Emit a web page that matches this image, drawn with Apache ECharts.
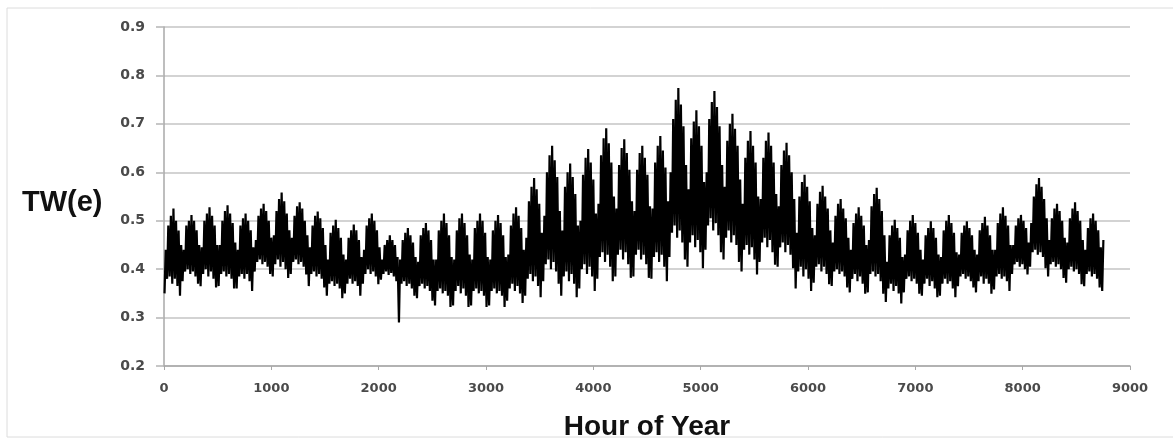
<!DOCTYPE html>
<html>
<head>
<meta charset="utf-8">
<script src="https://cdn.jsdelivr.net/npm/echarts@6/dist/echarts.min.js"></script>
<style>
html,body{margin:0;padding:0;background:#fff;}
#chart{width:1173px;height:446px;}
</style>
</head>
<body>
<div id="chart"></div>
<script>
// Daily maximum TW(e) value, one entry per day of the year (365 days)
const dayHigh = [
0.44,0.49,0.51,0.525,0.50,0.48,0.45,
0.44,0.49,0.50,0.512,0.50,0.48,0.45,
0.445,0.50,0.515,0.528,0.51,0.49,0.45,
0.45,0.50,0.52,0.532,0.515,0.495,0.455,
0.44,0.49,0.505,0.515,0.50,0.48,0.445,
0.46,0.51,0.525,0.535,0.52,0.50,0.465,
0.47,0.52,0.545,0.558,0.54,0.515,0.48,
0.465,0.51,0.53,0.538,0.525,0.50,0.47,
0.445,0.49,0.51,0.519,0.505,0.485,0.45,
0.42,0.475,0.49,0.502,0.485,0.465,0.43,
0.42,0.465,0.48,0.492,0.48,0.46,0.425,
0.44,0.49,0.505,0.515,0.50,0.48,0.445,
0.42,0.45,0.46,0.47,0.46,0.45,0.425,
0.42,0.46,0.475,0.485,0.47,0.455,0.425,
0.415,0.47,0.485,0.495,0.48,0.46,0.42,
0.42,0.48,0.50,0.515,0.495,0.47,0.425,
0.42,0.48,0.505,0.515,0.495,0.47,0.43,
0.42,0.485,0.50,0.515,0.50,0.475,0.425,
0.42,0.48,0.50,0.512,0.495,0.47,0.425,
0.43,0.49,0.515,0.528,0.51,0.485,0.44,
0.465,0.54,0.57,0.588,0.565,0.535,0.475,
0.51,0.60,0.635,0.655,0.625,0.59,0.52,
0.48,0.57,0.60,0.618,0.59,0.555,0.49,
0.50,0.595,0.63,0.648,0.62,0.585,0.515,
0.535,0.635,0.67,0.691,0.66,0.62,0.55,
0.525,0.615,0.65,0.668,0.64,0.605,0.54,
0.52,0.605,0.64,0.655,0.63,0.595,0.53,
0.525,0.62,0.655,0.675,0.645,0.61,0.54,
0.60,0.71,0.75,0.774,0.74,0.695,0.615,
0.565,0.67,0.705,0.728,0.695,0.655,0.58,
0.60,0.71,0.745,0.768,0.735,0.695,0.615,
0.57,0.665,0.70,0.721,0.69,0.655,0.585,
0.535,0.63,0.665,0.685,0.655,0.62,0.55,
0.545,0.63,0.665,0.682,0.655,0.62,0.555,
0.53,0.615,0.645,0.661,0.635,0.60,0.545,
0.475,0.55,0.58,0.595,0.57,0.54,0.485,
0.47,0.535,0.56,0.572,0.55,0.525,0.48,
0.455,0.51,0.535,0.545,0.525,0.505,0.465,
0.44,0.495,0.515,0.528,0.51,0.49,0.45,
0.46,0.53,0.555,0.568,0.545,0.52,0.47,
0.415,0.47,0.49,0.502,0.485,0.465,0.425,
0.43,0.48,0.50,0.512,0.495,0.475,0.44,
0.42,0.47,0.485,0.499,0.485,0.465,0.43,
0.425,0.48,0.50,0.512,0.495,0.475,0.435,
0.43,0.475,0.49,0.499,0.485,0.47,0.44,
0.43,0.48,0.495,0.508,0.49,0.47,0.44,
0.44,0.495,0.515,0.528,0.51,0.49,0.45,
0.45,0.49,0.505,0.512,0.50,0.485,0.455,
0.495,0.55,0.575,0.588,0.57,0.545,0.505,
0.46,0.505,0.525,0.535,0.52,0.50,0.465,
0.455,0.505,0.525,0.538,0.52,0.50,0.46,
0.44,0.485,0.505,0.515,0.50,0.48,0.445,
0.46
];
// Daily minimum TW(e) value, one entry per day of the year (365 days)
const dayLow = [
0.35,0.38,0.385,0.37,0.38,0.365,0.345,
0.375,0.395,0.40,0.39,0.395,0.385,0.37,
0.365,0.39,0.40,0.385,0.395,0.38,0.362,
0.365,0.39,0.395,0.385,0.39,0.38,0.36,
0.36,0.385,0.39,0.38,0.39,0.375,0.355,
0.395,0.415,0.42,0.41,0.415,0.405,0.39,
0.385,0.41,0.42,0.405,0.415,0.40,0.382,
0.39,0.415,0.42,0.41,0.415,0.405,0.389,
0.365,0.39,0.395,0.385,0.39,0.38,0.362,
0.345,0.37,0.375,0.365,0.37,0.36,0.34,
0.35,0.37,0.38,0.37,0.375,0.365,0.345,
0.37,0.39,0.40,0.39,0.395,0.385,0.369,
0.378,0.39,0.395,0.388,0.392,0.385,0.375,
0.29,0.37,0.375,0.365,0.37,0.36,0.345,
0.34,0.365,0.37,0.36,0.365,0.355,0.335,
0.325,0.355,0.36,0.35,0.355,0.345,0.322,
0.325,0.355,0.365,0.35,0.36,0.345,0.322,
0.325,0.355,0.36,0.35,0.355,0.345,0.322,
0.325,0.355,0.36,0.35,0.355,0.345,0.322,
0.335,0.36,0.37,0.355,0.365,0.35,0.33,
0.345,0.38,0.39,0.375,0.385,0.365,0.342,
0.375,0.41,0.42,0.40,0.415,0.395,0.37,
0.345,0.385,0.395,0.375,0.39,0.37,0.342,
0.36,0.40,0.41,0.39,0.405,0.385,0.355,
0.38,0.425,0.435,0.415,0.43,0.405,0.375,
0.385,0.43,0.44,0.42,0.435,0.41,0.382,
0.385,0.43,0.44,0.42,0.43,0.41,0.382,
0.38,0.425,0.435,0.415,0.43,0.405,0.375,
0.425,0.475,0.49,0.465,0.48,0.455,0.42,
0.405,0.455,0.47,0.445,0.46,0.435,0.402,
0.44,0.49,0.505,0.48,0.495,0.47,0.435,
0.42,0.465,0.48,0.455,0.47,0.45,0.415,
0.395,0.44,0.45,0.43,0.445,0.42,0.389,
0.415,0.455,0.465,0.445,0.46,0.435,0.409,
0.405,0.445,0.455,0.435,0.45,0.43,0.402,
0.36,0.395,0.405,0.385,0.40,0.38,0.355,
0.372,0.405,0.41,0.395,0.405,0.39,0.369,
0.365,0.395,0.40,0.39,0.395,0.385,0.362,
0.352,0.38,0.39,0.375,0.385,0.37,0.349,
0.352,0.39,0.395,0.385,0.39,0.375,0.349,
0.332,0.36,0.37,0.355,0.365,0.35,0.329,
0.352,0.38,0.385,0.375,0.38,0.37,0.349,
0.345,0.37,0.38,0.365,0.375,0.36,0.342,
0.345,0.37,0.38,0.37,0.375,0.36,0.342,
0.365,0.385,0.39,0.38,0.385,0.375,0.362,
0.352,0.375,0.385,0.37,0.38,0.37,0.349,
0.358,0.385,0.39,0.38,0.385,0.375,0.355,
0.39,0.41,0.415,0.405,0.41,0.40,0.389,
0.405,0.435,0.44,0.43,0.435,0.425,0.402,
0.385,0.41,0.415,0.405,0.41,0.40,0.382,
0.372,0.40,0.405,0.395,0.40,0.39,0.369,
0.365,0.39,0.395,0.385,0.39,0.38,0.362,
0.355
];
// Hour of day at which the daily minimum / maximum occurs
const lowHour = 5;
const highHour = 16;
const xTicks = [0, 1000, 2000, 3000, 4000, 5000, 6000, 7000, 8000, 9000];
const yTicks = [0.2, 0.3, 0.4, 0.5, 0.6, 0.7, 0.8, 0.9];

const seriesData = [];
for (let d = 0; d < dayHigh.length; d++) {
  seriesData.push([d * 24 + lowHour, dayLow[d]]);
  seriesData.push([d * 24 + highHour, dayHigh[d]]);
}

const chart = echarts.init(document.getElementById('chart'), null, {renderer: 'canvas'});
chart.setOption({
  animation: false,
  backgroundColor: '#ffffff',
  graphic: [{
    type: 'rect',
    shape: {x: 7, y: 8, width: 1200, height: 429},
    style: {fill: 'none', stroke: '#dcdcdc', lineWidth: 1},
    silent: true
  }, {
    type: 'text',
    left: 22, top: 188,
    style: {text: 'TW(e)', font: 'bold 29px "Liberation Sans", Arial, sans-serif', fill: '#111'}
  }],
  grid: {left: 164, right: 43, top: 27, bottom: 68},
  xAxis: {
    type: 'value',
    min: xTicks[0], max: xTicks[xTicks.length - 1], interval: 1000,
    name: 'Hour of Year',
    nameLocation: 'middle',
    nameGap: 47,
    nameTextStyle: {fontFamily: '"Liberation Sans", Arial, sans-serif', fontWeight: 'bold', fontSize: 28, color: '#111'},
    axisLine: {show: true, lineStyle: {color: '#a8a8a8', width: 1.5}},
    axisTick: {show: true, length: 4, lineStyle: {color: '#a8a8a8'}},
    splitLine: {show: false},
    axisLabel: {margin: 16, fontFamily: '"DejaVu Sans", sans-serif', fontWeight: 'bold', fontSize: 13, color: '#4a4a4a',
      formatter: v => String(v)}
  },
  yAxis: {
    type: 'value',
    min: yTicks[0], max: yTicks[yTicks.length - 1], interval: 0.1,
    axisLine: {show: true, lineStyle: {color: '#a8a8a8', width: 1.5}},
    axisTick: {show: true, length: 8, lineStyle: {color: '#b5b5b5', width: 1.5}},
    splitLine: {show: true, lineStyle: {color: '#c4c4c4', width: 1.5}},
    axisLabel: {margin: 19, fontFamily: '"DejaVu Sans", sans-serif', fontWeight: 'bold', fontSize: 14, color: '#4a4a4a',
      formatter: v => v.toFixed(1)}
  },
  series: [{
    type: 'line',
    data: seriesData,
    showSymbol: false,
    symbol: 'none',
    lineStyle: {color: '#000', width: 2.2},
    sampling: null
  }]
});
</script>
</body>
</html>
